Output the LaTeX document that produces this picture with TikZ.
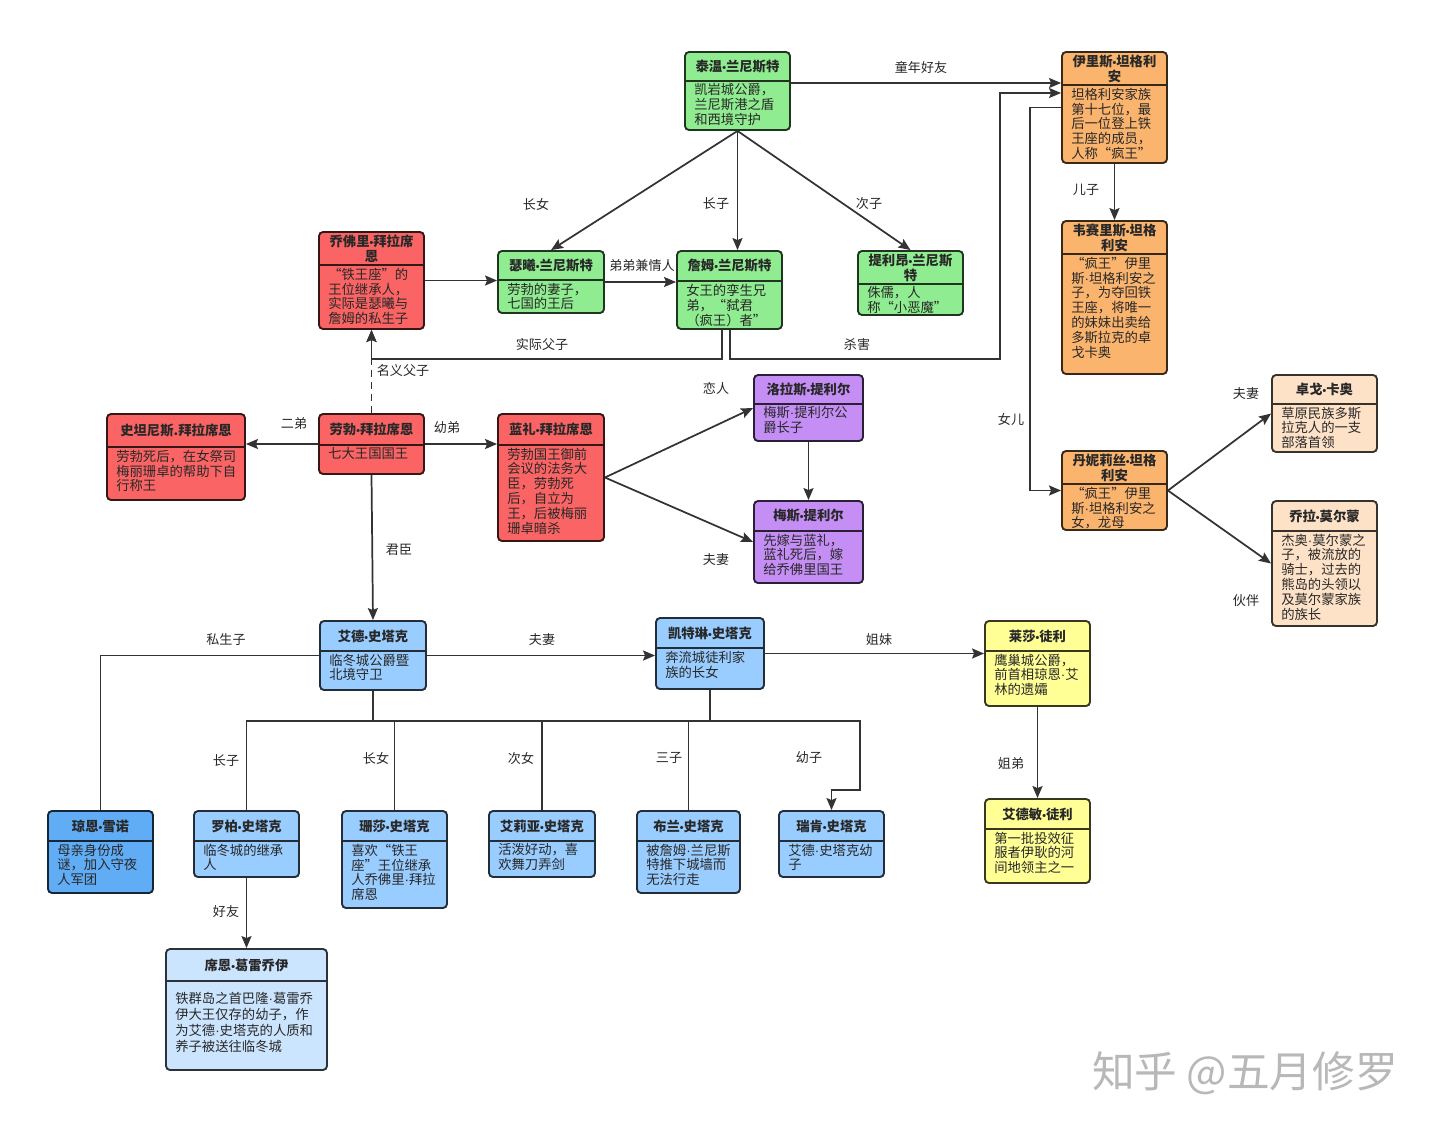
\documentclass[tikz,border=0pt]{standalone}
\usepackage{fontspec}
\setmainfont{Noto Sans CJK SC}
\newfontfamily\latinfont{Liberation Sans}
\newcommand\md{{\latinfont\mdseries ·}}
\newcommand\bd{{\latinfont\bfseries\fontsize{8}{8}\selectfont •}}
\usetikzlibrary{arrows.meta,fit,calc}
\definecolor{cgreen}{RGB}{144,236,144}
\definecolor{corange}{RGB}{250,180,110}
\definecolor{cred}{RGB}{250,100,100}
\definecolor{cpurple}{RGB}{196,142,245}
\definecolor{cpeach}{RGB}{253,226,200}
\definecolor{cyellow}{RGB}{255,255,150}
\definecolor{cblue}{RGB}{153,204,255}
\definecolor{cdblue}{RGB}{96,172,245}
\definecolor{clblue}{RGB}{204,229,255}
\definecolor{cline}{RGB}{51,51,51}
\definecolor{ctext}{RGB}{40,40,40}
\newcommand\pnode[9]{%
  \node[pbox,fill=#7,draw=#7!22!black,fit={(#2,#3) (#4,#5)}] (#1) {};
  \draw[psep,draw=#7!22!black] (#2,#6) -- (#4,#6);
  \node[ptitle] (#1t) at ({(#2+#4)/2},{(#3+#6)/2}) {#8};
  \node[pbody] (#1b) at ({#2+9},{#6+2.5}) {#9};
}
\begin{document}
\begin{tikzpicture}[x=0.75pt,y=-0.75pt,
  pbox/.style={rectangle,rounded corners=3pt,line width=1.4pt,inner sep=0pt},
  psep/.style={line width=1.4pt},
  ptitle/.style={font=\bfseries\fontsize{10}{11.3}\selectfont,align=center,inner sep=0pt,text=ctext},
  pbody/.style={anchor=north west,font=\fontsize{10}{11.2}\selectfont,align=left,inner sep=0pt,text=ctext},
  conn/.style={draw=cline,line width=1.3pt,-{Stealth[length=9pt,width=7.5pt,inset=1.5pt]}},
  plain/.style={draw=cline,line width=1.3pt},
  lbl/.style={font=\fontsize{9.8}{11}\selectfont,text=ctext,inner sep=1pt}]
\fill[white] (0,0) rectangle (1438,1133);
\useasboundingbox (0,0) rectangle (1438,1133);

% ---- persons ----
\pnode{tywin}{685}{52}{790}{130}{81}{cgreen}{泰温\bd 兰尼斯特}{凯岩城公爵，\\兰尼斯港之盾\\和西境守护}
\pnode{aerys}{1062}{52}{1167}{163}{85}{corange}{伊里斯\bd 坦格利\\安}{坦格利安家族\\第十七位，最\\后一位登上铁\\王座的成员，\\人称“疯王”}
\pnode{viserys}{1062}{221}{1167}{374}{254}{corange}{韦赛里斯\bd 坦格\\利安}{“疯王”伊里\\斯\md 坦格利安之\\子，为夺回铁\\王座，将唯一\\的妹妹出卖给\\多斯拉克的卓\\戈卡奥}
\pnode{joffrey}{319}{232}{424}{329}{265}{cred}{乔佛里\bd 拜拉席\\恩}{“铁王座”的\\王位继承人，\\实际是瑟曦与\\詹姆的私生子}
\pnode{cersei}{498}{251}{604}{313}{280}{cgreen}{瑟曦\bd 兰尼斯特}{劳勃的妻子，\\七国的王后}
\pnode{jaime}{677}{251}{782}{329}{281}{cgreen}{詹姆\bd 兰尼斯特}{女王的孪生兄\\弟，“弑君\\（疯王）者”}
\pnode{tyrion}{858}{251}{963}{315}{284}{cgreen}{提利昂\bd 兰尼斯\\特}{侏儒，人\\称“小恶魔”}
\pnode{stannis}{107}{414}{245}{500}{447}{cred}{史坦尼斯.拜拉席恩}{劳勃死后，在女祭司\\梅丽珊卓的帮助下自\\行称王}
\pnode{robert}{319}{414}{424}{474}{445}{cred}{劳勃\bd 拜拉席恩}{七大王国国王}
\pnode{renly}{498}{414}{604}{541}{445}{cred}{蓝礼\bd 拜拉席恩}{劳勃国王御前\\会议的法务大\\臣，劳勃死\\后，自立为\\王，后被梅丽\\珊卓暗杀}
\pnode{loras}{754}{375}{863}{441}{404}{cpurple}{洛拉斯\bd 提利尔}{梅斯\md 提利尔公\\爵长子}
\pnode{margaery}{754}{501}{863}{583}{531}{cpurple}{梅斯\bd 提利尔}{先嫁与蓝礼，\\蓝礼死后，嫁\\给乔佛里国王}
\pnode{daenerys}{1062}{451}{1167}{530}{484}{corange}{丹妮莉丝\bd 坦格\\利安}{“疯王”伊里\\斯\md 坦格利安之\\女，龙母}
\pnode{drogo}{1272}{375}{1377}{452}{404}{cpeach}{卓戈\bd 卡奥}{草原民族多斯\\拉克人的一支\\部落首领}
\pnode{jorah}{1272}{501}{1377}{626}{531}{cpeach}{乔拉\bd 莫尔蒙}{杰奥\md 莫尔蒙之\\子，被流放的\\骑士，过去的\\熊岛的头领以\\及莫尔蒙家族\\的族长}
\pnode{ned}{320}{621}{426}{690}{651}{cblue}{艾德\bd 史塔克}{临冬城公爵暨\\北境守卫}
\pnode{catelyn}{656}{618}{764}{689}{648}{cblue}{凯特琳\bd 史塔克}{奔流城徒利家\\族的长女}
\pnode{lysa}{985}{621}{1090}{706}{651}{cyellow}{莱莎\bd 徒利}{鹰巢城公爵，\\前首相琼恩\md 艾\\林的遗孀}
\pnode{edmure}{985}{799}{1090}{883}{829}{cyellow}{艾德敏\bd 徒利}{第一批投效征\\服者伊耿的河\\间地领主之一}
\pnode{jon}{48}{811}{153}{893}{841}{cdblue}{琼恩\bd 雪诺}{母亲身份成\\谜，加入守夜\\人军团}
\pnode{robb}{194}{811}{299}{877}{841}{cblue}{罗柏\bd 史塔克}{临冬城的继承\\人}
\pnode{sansa}{342}{811}{447}{908}{841}{cblue}{珊莎\bd 史塔克}{喜欢“铁王\\座”王位继承\\人乔佛里\md 拜拉\\席恩}
\pnode{arya}{489}{811}{595}{877}{841}{cblue}{艾莉亚\bd 史塔克}{活泼好动，喜\\欢舞刀弄剑}
\pnode{bran}{637}{811}{740}{893}{841}{cblue}{布兰\bd 史塔克}{被詹姆\md 兰尼斯\\特推下城墙而\\无法行走}
\pnode{rickon}{779}{811}{884}{877}{841}{cblue}{瑞肯\bd 史塔克}{艾德\md 史塔克幼\\子}
% Theon (body set lower)
\node[pbox,fill=clblue,draw=clblue!22!black,fit={(166,949) (327,1070)}] (theon) {};
\draw[psep,draw=clblue!22!black] (166,981) -- (327,981);
\node[ptitle] (theont) at (246.5,965) {席恩\bd 葛雷乔伊};
\node[pbody,font=\fontsize{10}{12}\selectfont] (theonb) at (175,992) {铁群岛之首巴隆\md 葛雷乔\\伊大王仅存的幼子，作\\为艾德\md 史塔克的人质和\\养子被送往临冬城};

% ---- connectors ----
\draw[conn] (tywin.east |- 0,83) -- (aerys.west |- 0,83);
\node[lbl] (l1) at (921,67) {童年好友};
\draw[conn] (tywin.south) -- (cersei.north);
\node[lbl] (l2) at (536,204) {长女};
\draw[conn] (tywin.south) -- (tywin.south |- jaime.north);
\node[lbl] (l3) at (716,204) {长子};
\draw[conn] (tywin.south) -- (tyrion.north);
\node[lbl] (l4) at (869,204) {次子};
\draw[conn] (joffrey.east) -- (joffrey.east -| cersei.west);
\draw[conn] (cersei.east) -- (cersei.east -| jaime.west);
\node[lbl] (l5) at (642,266) {弟弟兼情人};
\draw[conn] (jaime.south) ++(-7.5,0) -- ++(0,29) -| (joffrey.south);
\node[lbl] (l6) at (542,344) {实际父子};
\draw[conn] (jaime.south) ++(0.5,0) -- ++(0,29) -| (1000,93) -- (aerys.west |- 0,93);
\node[lbl] (l7) at (857,344) {杀害};
\draw[conn,dashed,dash pattern=on 5pt off 4pt] (robert.north) -- (joffrey.south);
\node[lbl] (l8) at (403,371) {名义父子};
\draw[conn] (robert.west) -- (robert.west -| stannis.east);
\node[lbl] (l9) at (294,424) {二弟};
\draw[conn] (robert.east) -- (robert.east -| renly.west);
\node[lbl] (l10) at (447,428) {幼弟};
\draw[conn] (renly.east) -- (loras.west);
\node[lbl] (l11) at (716,388) {恋人};
\draw[conn] (renly.east) -- (margaery.west);
\node[lbl] (l12) at (716,560) {夫妻};
\draw[conn] (loras.south) -- (margaery.north);
\draw[conn] (aerys.south) -- (viserys.north);
\node[lbl] (l13) at (1086,190) {儿子};
\draw[conn] (aerys.west) -- ++(-31,0) |- (daenerys.west);
\node[lbl] (l14) at (1011,419) {女儿};
\draw[conn] (daenerys.east) -- (drogo.west);
\node[lbl] (l15) at (1246,394) {夫妻};
\draw[conn] (daenerys.east) -- (jorah.west);
\node[lbl] (l16) at (1246,601) {伙伴};
\draw[conn] (robert.south) -- (ned.north);
\node[lbl] (l17) at (399,550) {君臣};
\draw[conn] (ned.east) -- (ned.east -| catelyn.west);
\node[lbl] (l18) at (542,640) {夫妻};
\draw[conn] (catelyn.east) -- (catelyn.east -| lysa.west);
\node[lbl] (l19) at (879,640) {姐妹};
\draw[conn] (lysa.south) -- (edmure.north);
\node[lbl] (l20) at (1011,764) {姐弟};
\draw[plain] (ned.west) -| (jon.north);
\node[lbl] (l21) at (226,640) {私生子};
\draw[plain] (ned.south) -- ++(0,30) -| (robb.north);
\draw[plain] (ned.south) -- ++(0,30) -| (sansa.north);
\draw[plain] (ned.south) -- ++(0,30) -| (arya.north);
\draw[plain] (catelyn.south) -- ++(0,31) -| (arya.north);
\draw[plain] (catelyn.south) -- ++(0,31) -| (bran.north);
\draw[conn] (catelyn.south) -- ++(0,31) -| (860,790) -| (rickon.north);
\node[lbl] (l22) at (226,761) {长子};
\node[lbl] (l23) at (376,758) {长女};
\node[lbl] (l24) at (521,758) {次女};
\node[lbl] (l25) at (669,758) {三子};
\node[lbl] (l26) at (809,758) {幼子};
\draw[conn] (robb.south) -- (theon.north);
\node[lbl] (l27) at (226,912) {好友};

% watermark
\node[font=\fontsize{32}{32}\selectfont,text=black!28] (wm) at (1245,1073) {知乎 @五月修罗};
\end{tikzpicture}
\end{document}
